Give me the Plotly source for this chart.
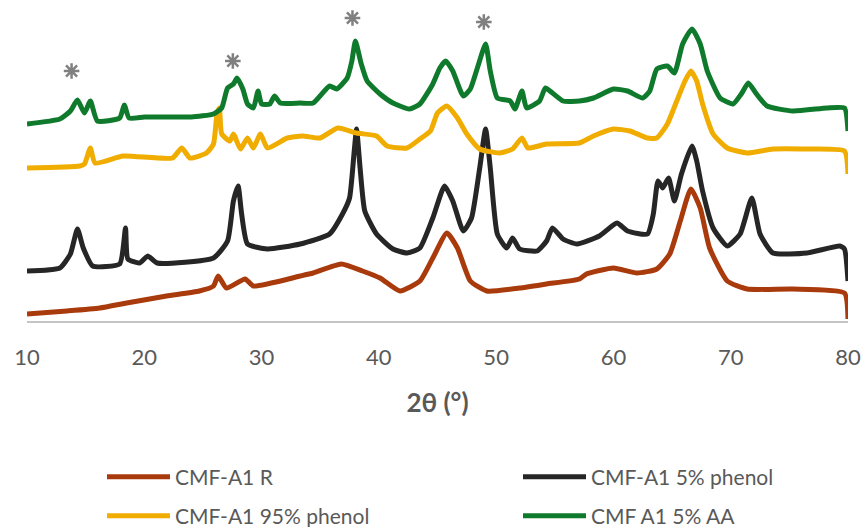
import plotly.graph_objects as go

# ---- data (2θ in degrees, intensity in arbitrary units) ----
x_aa = [10.0, 12.8, 13.7, 14.3, 14.9, 15.4, 16.0, 17.9, 18.3, 18.7, 20.0, 22.0, 24.0, 25.9, 26.6,
        27.1, 27.6, 27.9, 28.4, 28.8, 29.3, 29.7, 30.0, 30.7, 31.1, 31.6, 33.3, 34.4, 35.8, 36.4,
        37.3, 37.7, 38.0, 38.5, 39.0, 40.1, 41.2, 42.6, 43.5, 44.6, 45.2, 45.7, 46.3, 47.2, 47.8,
        48.4, 49.1, 49.5, 50.1, 51.2, 51.6, 52.2, 52.6, 53.7, 54.2, 54.8, 55.7, 57.1, 58.3, 60.0,
        61.2, 62.5, 63.1, 63.7, 64.6, 65.2, 65.9, 66.7, 67.4, 68.0, 69.1, 70.2, 70.9, 71.5, 72.2,
        73.1, 75.3, 78.2, 79.7, 80.0]
y_aa = [197, 202, 210, 221, 208, 220, 200, 203, 216, 203, 204, 204, 204, 207, 213,
        233, 237, 243, 232, 217, 213, 230, 217, 217, 225, 218, 218, 218, 235, 232,
        243, 260, 280, 257, 240, 227, 218, 212, 217, 237, 253, 260, 250, 225, 232,
        253, 277, 250, 223, 220, 212, 230, 213, 220, 233, 228, 220, 220, 223, 232,
        230, 223, 230, 252, 255, 248, 277, 292, 277, 250, 223, 217, 227, 238, 227,
        215, 210, 213, 213, 190]

x_p95 = [10.0, 14.5, 14.9, 15.4, 15.8, 18.2, 22.4, 23.2, 23.9, 25.3, 25.9, 26.2, 26.4, 26.6, 27.3,
         27.6, 28.2, 28.8, 29.3, 29.9, 30.5, 32.2, 33.5, 35.0, 36.5, 38.1, 39.8, 40.7, 42.4, 43.5,
         44.4, 45.0, 45.8, 46.7, 47.5, 48.6, 50.3, 51.4, 52.2, 52.7, 54.3, 57.1, 58.3, 60.0, 61.4,
         62.9, 63.7, 64.6, 65.4, 66.1, 66.6, 67.1, 67.6, 68.5, 69.7, 71.4, 73.6, 76.5, 79.7, 80.0]
y_p95 = [153, 155, 157, 173, 158, 165, 163, 173, 163, 168, 177, 207, 213, 187, 180,
         187, 172, 183, 173, 187, 173, 183, 185, 183, 193, 188, 185, 175, 173, 182,
         190, 208, 215, 203, 187, 172, 168, 172, 183, 173, 177, 178, 185, 192, 190,
         183, 183, 197, 220, 240, 250, 240, 217, 187, 173, 168, 172, 172, 170, 147]

x_p5 = [10.0, 12.8, 13.7, 14.3, 14.8, 15.6, 17.9, 18.4, 18.6, 19.6, 20.3, 21.1, 25.9, 27.1, 27.6,
        28.0, 28.3, 28.8, 30.5, 33.3, 35.8, 36.9, 37.5, 37.9, 38.1, 38.4, 38.8, 39.8, 41.2, 42.4,
        43.5, 44.6, 45.6, 46.3, 47.2, 47.9, 48.6, 49.1, 49.5, 50.1, 50.9, 51.4, 52.0, 53.5, 54.3,
        54.8, 55.7, 56.9, 58.8, 60.3, 61.2, 62.9, 63.4, 63.8, 64.2, 64.7, 65.2, 65.8, 66.7, 67.1,
        67.6, 68.5, 69.7, 70.8, 71.8, 72.5, 73.6, 76.5, 79.3, 79.7, 80.0]
y_p5 = [50, 53, 67, 92, 73, 55, 57, 93, 62, 58, 65, 58, 63, 80, 120,
        135, 107, 77, 72, 77, 87, 107, 123, 170, 192, 153, 110, 87, 72, 68,
        73, 103, 135, 120, 90, 103, 153, 192, 153, 87, 73, 83, 72, 70, 80,
        93, 82, 77, 85, 98, 90, 87, 107, 140, 133, 143, 120, 147, 175, 160,
        130, 93, 75, 87, 123, 87, 68, 68, 75, 72, 40]

x_r = [10.0, 13.4, 16.2, 18.5, 21.9, 24.7, 25.9, 26.3, 27.0, 28.6, 29.3, 33.3, 34.4, 36.8, 38.6,
       40.1, 41.8, 43.5, 44.6, 45.8, 46.7, 47.8, 49.2, 52.0, 54.3, 57.1, 57.7, 60.0, 62.0, 63.7,
       64.8, 65.7, 66.6, 67.4, 68.2, 69.7, 71.4, 75.3, 79.7, 80.0]
y_r = [7, 10, 13, 18, 25, 30, 35, 45, 33, 42, 35, 45, 48, 57, 50,
       43, 30, 40, 63, 88, 73, 40, 30, 33, 37, 42, 47, 53, 48, 52,
       67, 100, 132, 113, 73, 40, 32, 32, 28, 2]

series_names = ["CMF-A1 R", "CMF-A1 5% phenol", "CMF-A1 95% phenol", "CMF A1 5% AA"]
series_colors = ["#a83a0c", "#262626", "#f0ad00", "#107a2c"]
x_ticks = [10, 20, 30, 40, 50, 60, 70, 80]
star_x = [13.8, 27.55, 37.75, 48.95]
star_y = [250, 260, 303, 299]

# legend slots (pixel left edge of each entry, pixel row centre)
legend_ids = ["legend", "legend2", "legend3", "legend4"]
legend_px = [(102, 477), (518, 477), (102, 516), (518, 516)]

fig = go.Figure()
for name, xs, ys, col, lg in zip(series_names, [x_r, x_p5, x_p95, x_aa], [y_r, y_p5, y_p95, y_aa],
                                 series_colors, legend_ids):
    fig.add_trace(go.Scatter(x=xs, y=ys, mode="lines", name=name, legend=lg,
                             line=dict(color=col, width=5, shape="spline", smoothing=0.5)))

fig.add_trace(go.Scatter(x=star_x, y=star_y, mode="markers", showlegend=False, hoverinfo="skip",
                         marker=dict(symbol="asterisk-open", size=13, color="#808080",
                                     line=dict(width=2.5, color="#808080"))))

PL, PB, PW, PH = 27, 321, 821, 315
legends = {}
for lg, (px, py) in zip(legend_ids, legend_px):
    legends[lg] = dict(orientation="h", xanchor="left", yanchor="middle",
                       x=(px - PL) / PW, y=-(py - PB) / PH, itemwidth=63,
                       font=dict(family="Lato", size=21, color="#595959"),
                       bgcolor="rgba(0,0,0,0)", borderwidth=0)

fig.update_layout(
    width=863, height=527,
    margin=dict(l=PL, r=863 - PL - PW, t=PB - PH, b=527 - PB, autoexpand=False),
    paper_bgcolor="white", plot_bgcolor="white",
    font=dict(family="Lato", color="#595959"),
    xaxis=dict(range=[10, 80], tickvals=x_ticks, showgrid=False, zeroline=False,
               showline=True, linecolor="#c4c4c4", linewidth=1.5, ticks="",
               ticklabelstandoff=16, tickfont=dict(family="Lato", size=22, color="#595959"),
               title=dict(text="<b>2θ (°)</b>", font=dict(family="Lato", size=26, color="#595959"),
                          standoff=25)),
    yaxis=dict(range=[0, 315], visible=False),
    showlegend=True,
    **legends,
)

fig.write_html("out.html", config={"displayModeBar": False},
               post_script="document.body.style.margin='0';document.body.style.overflow='hidden';")
